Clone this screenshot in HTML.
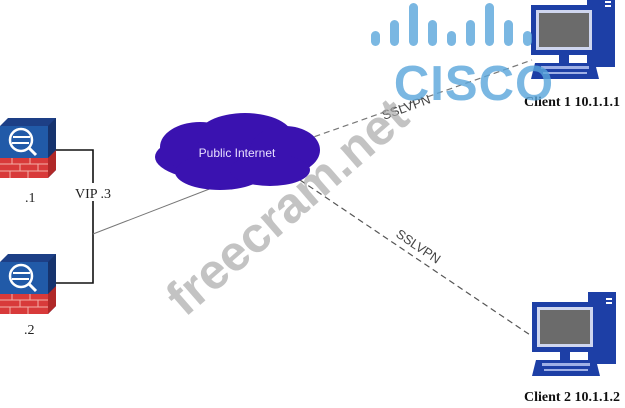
<!DOCTYPE html>
<html><head><style>
html,body{margin:0;padding:0;background:#fff;}
</style></head><body>
<svg width="625" height="403" viewBox="0 0 625 403" xmlns="http://www.w3.org/2000/svg">
<defs>
<g id="pc">
  <rect x="56" y="0" width="28" height="72" fill="#1d3fa6"/>
  <rect x="74" y="6" width="6" height="2" fill="#fff"/>
  <rect x="74" y="10" width="6" height="2" fill="#fff"/>
  <rect x="0" y="10" width="66" height="50" fill="#1d3fa6"/>
  <rect x="5" y="15" width="56" height="40" fill="#cfd6ef"/>
  <rect x="8" y="18" width="50" height="34" fill="#6b6b6b"/>
  <rect x="28" y="60" width="10" height="8" fill="#1d3fa6"/>
  <polygon points="4,68 64,68 68,84 0,84" fill="#1d3fa6"/>
  <rect x="10" y="71" width="48" height="3" fill="#9fb0e6"/>
  <rect x="12" y="77" width="44" height="2" fill="#9fb0e6"/>
</g>
<g id="fw">
  <polygon points="0,8 8,0 56,0 56,52 48,60 0,60" fill="#1d3f86"/>
  <rect x="0" y="8" width="48" height="32" fill="#215aa8"/>
  <polygon points="48,8 56,0 56,40 48,48" fill="#16336d"/>
  <circle cx="21" cy="22" r="11" fill="none" stroke="#fff" stroke-width="2.5"/>
  <line x1="29" y1="30" x2="36" y2="37" stroke="#fff" stroke-width="3"/>
  <line x1="13" y1="19" x2="30" y2="19" stroke="#fff" stroke-width="2"/>
  <line x1="12" y1="25" x2="29" y2="25" stroke="#fff" stroke-width="2"/>
  <rect x="0" y="40" width="48" height="20" fill="#d83a3a"/>
  <polygon points="48,40 56,32 56,52 48,60" fill="#b02828"/>
  <g stroke="#f3b0a8" stroke-width="1">
    <line x1="0" y1="46" x2="48" y2="46"/><line x1="0" y1="53" x2="48" y2="53"/>
    <line x1="12" y1="40" x2="12" y2="46"/><line x1="30" y1="40" x2="30" y2="46"/>
    <line x1="20" y1="46" x2="20" y2="53"/><line x1="38" y1="46" x2="38" y2="53"/>
    <line x1="10" y1="53" x2="10" y2="60"/><line x1="28" y1="53" x2="28" y2="60"/>
  </g>
</g>
</defs>

<polyline points="54,150 93,150 93,283 54,283" fill="none" stroke="#111" stroke-width="1.6"/>
<line x1="93" y1="234" x2="212" y2="188" stroke="#777" stroke-width="1"/>
<line x1="305" y1="140" x2="532" y2="60" stroke="#777" stroke-width="1.2" stroke-dasharray="6,4"/>
<line x1="300" y1="180" x2="545" y2="345" stroke="#555" stroke-width="1.2" stroke-dasharray="6,4"/>

<g fill="#3a12b0">
  <ellipse cx="235" cy="157" rx="80" ry="26"/>
  <ellipse cx="200" cy="147" rx="40" ry="25"/>
  <ellipse cx="245" cy="137" rx="48" ry="24"/>
  <ellipse cx="285" cy="150" rx="35" ry="24"/>
  <ellipse cx="220" cy="172" rx="45" ry="18"/>
  <ellipse cx="270" cy="170" rx="40" ry="16"/>
</g>
<text x="237" y="157" font-family="Liberation Sans, sans-serif" font-size="12" fill="#e8e0ff" text-anchor="middle">Public Internet</text>

<use href="#fw" x="0" y="118"/>
<use href="#fw" x="0" y="254"/>
<text x="25" y="202" font-family="Liberation Serif, serif" font-size="14" fill="#222">.1</text>
<text x="24" y="334" font-family="Liberation Serif, serif" font-size="14" fill="#222">.2</text>
<rect x="72" y="183" width="45" height="18" fill="#fff"/>
<text x="75" y="198" font-family="Liberation Serif, serif" font-size="14" fill="#222">VIP .3</text>

<use href="#pc" x="531" y="-5"/>
<use href="#pc" x="532" y="292"/>
<text x="572" y="106" font-family="Liberation Serif, serif" font-size="14" font-weight="bold" fill="#111" text-anchor="middle">Client 1 10.1.1.1</text>
<text x="572" y="401" font-family="Liberation Serif, serif" font-size="14" font-weight="bold" fill="#111" text-anchor="middle">Client 2 10.1.1.2</text>

<text x="0" y="0" font-family="Liberation Sans, sans-serif" font-size="13" fill="#444" transform="translate(384,120) rotate(-20)">SSLVPN</text>
<text x="0" y="0" font-family="Liberation Sans, sans-serif" font-size="13" fill="#444" transform="translate(395,236) rotate(34)">SSLVPN</text>

<g fill="#5aa6db" opacity="0.8">
  <rect x="371" y="31" width="9" height="15" rx="4.5"/>
  <rect x="390" y="20" width="9" height="26" rx="4.5"/>
  <rect x="409" y="3" width="9" height="43" rx="4.5"/>
  <rect x="428" y="20" width="9" height="26" rx="4.5"/>
  <rect x="447" y="31" width="9" height="15" rx="4.5"/>
  <rect x="466" y="20" width="9" height="26" rx="4.5"/>
  <rect x="485" y="3" width="9" height="43" rx="4.5"/>
  <rect x="504" y="20" width="9" height="26" rx="4.5"/>
  <rect x="523" y="31" width="9" height="15" rx="4.5"/>
</g>
<text x="474" y="100" font-family="Liberation Sans, sans-serif" font-size="49" font-weight="bold" fill="#5aa6db" opacity="0.8" text-anchor="middle" letter-spacing="1">CISCO</text>

<text x="0" y="0" font-family="Liberation Sans, sans-serif" font-size="50" font-weight="bold" fill="#aaaaaa" opacity="0.7" transform="translate(185,318) rotate(-41)">freecram.net</text>
</svg>
</body></html>
